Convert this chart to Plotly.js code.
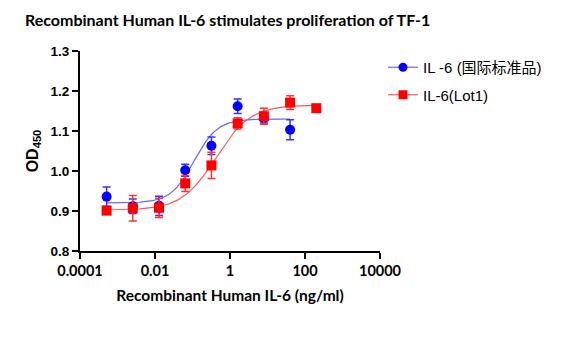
<!DOCTYPE html>
<html><head><meta charset="utf-8">
<script src="https://cdn.plot.ly/plotly-3.0.1.min.js"></script>
<style>html,body{margin:0;padding:0;background:#fff}#chart{width:575px;height:347px}</style>
</head><body><div id="chart"></div>
<script>
// concentrations (ng/ml)
const concStd = [0.000512, 0.00256, 0.0128, 0.064, 0.32, 1.6, 8, 40];
const odStd = [0.936, 0.912, 0.913, 1.002, 1.063, 1.162, 1.132, 1.103];
const errStd = [0.024, 0.018, 0.024, 0.015, 0.022, 0.018, 0.012, 0.025];

const concLot = [0.000512, 0.00256, 0.0128, 0.064, 0.32, 1.6, 8, 40, 200];
const odLot = [0.901, 0.907, 0.908, 0.969, 1.014, 1.119, 1.137, 1.171, 1.157];
const errLot = [0.006, 0.032, 0.024, 0.02, 0.033, 0.014, 0.02, 0.017, 0];

// 4PL fit parameters [bottom, top, EC50, hill]
const fitStd = [0.920, 1.130, 0.11, 1.4];
const fitLot = [0.902, 1.165, 0.42, 0.95];

const seriesNames = ['IL -6 (国际标准品)', 'IL-6(Lot1)'];
const xTickVals = [0.0001, 0.01, 1, 100, 10000];
const xTickText = ['0.0001', '0.01', '1', '100', '10000'];
const yTickVals = [0.8, 0.9, 1.0, 1.1, 1.2, 1.3];
const yTickText = ['0.8', '0.9', '1.0', '1.1', '1.2', '1.3'];

function curve(p, xmin, xmax) {
  const xs = [], ys = [];
  const a = Math.log10(xmin), b = Math.log10(xmax);
  for (let i = 0; i <= 200; i++) {
    const lx = a + (b - a) * i / 200, x = Math.pow(10, lx);
    xs.push(x);
    ys.push(p[0] + (p[1] - p[0]) / (1 + Math.pow(p[2] / x, p[3])));
  }
  return {xs, ys};
}
const cS = curve(fitStd, concStd[0], concStd[concStd.length - 1]);
const cL = curve(fitLot, concLot[0], concLot[concLot.length - 1]);

const blue = '#0000ff', red = '#ff0000';
const traces = [
  {x: cS.xs, y: cS.ys, mode: 'lines', line: {color: '#6666ff', width: 1.2}, showlegend: false, hoverinfo: 'skip'},
  {x: cL.xs, y: cL.ys, mode: 'lines', line: {color: '#ff5555', width: 1.2}, showlegend: false, hoverinfo: 'skip'},
  {x: concStd, y: odStd, mode: 'markers', marker: {color: blue, size: 10, symbol: 'circle'},
   error_y: {type: 'data', array: errStd, color: '#3333ff', thickness: 1.5, width: 4}, showlegend: false},
  {x: concLot, y: odLot, mode: 'markers', marker: {color: red, size: 10, symbol: 'square'},
   error_y: {type: 'data', array: errLot, color: '#ff3333', thickness: 1.5, width: 4}, showlegend: false},
  {x: [null], y: [null], mode: 'lines+markers', name: seriesNames[0], legendgroup: 'a', line: {color: '#6666ff', width: 1.2},
   marker: {color: blue, size: 9, symbol: 'circle'}},
  {x: [null], y: [null], mode: 'lines+markers', name: seriesNames[1], legendgroup: 'b', line: {color: '#ff5555', width: 1.2},
   marker: {color: red, size: 9, symbol: 'square'}}
];

const layout = {
  width: 575, height: 347,
  margin: {l: 80, r: 195, t: 51, b: 96},
  paper_bgcolor: '#fff', plot_bgcolor: '#fff',
  title: {text: '<b>Recombinant Human IL-6 stimulates proliferation of TF-1</b>',
    font: {family: 'Lato, "Open Sans", sans-serif', size: 16, color: '#000'},
    x: 25 / 575, xanchor: 'left', xref: 'container', y: 1 - 20 / 347, yanchor: 'middle', yref: 'container'},
  xaxis: {type: 'log', range: [-4, 4], tickvals: xTickVals, ticktext: xTickText,
    showline: true, linecolor: '#000', linewidth: 2, ticks: 'outside', ticklen: 6, tickwidth: 2, tickcolor: '#000',
    showgrid: false, zeroline: false,
    tickfont: {family: 'Lato, sans-serif', size: 14.5, color: '#000', weight: 'bold'},
    title: {text: '<b>Recombinant Human IL-6 (ng/ml)</b>', font: {family: 'Lato, sans-serif', size: 15.5, color: '#000'}, standoff: 12}},
  yaxis: {range: [0.8, 1.3], tickvals: yTickVals, ticktext: yTickText,
    showline: true, linecolor: '#000', linewidth: 2, ticks: 'outside', ticklen: 6, tickwidth: 2, tickcolor: '#000',
    showgrid: false, zeroline: false,
    tickfont: {family: '"Liberation Sans", Arial, sans-serif', size: 13.5, color: '#000', weight: 'bold'},
    title: {text: '<b>OD<sub>450</sub></b>', font: {family: '"Liberation Sans", Arial, sans-serif', size: 16, color: '#000'}, standoff: 8}},
  legend: {x: 1.01, xanchor: 'left', y: 1.0, yanchor: 'top', bgcolor: 'rgba(0,0,0,0)',
    font: {family: '"Liberation Sans", "Noto Sans CJK SC", sans-serif', size: 15, color: '#000'},
    tracegroupgap: 5, itemwidth: 30},
  showlegend: true
};

Plotly.newPlot('chart', traces, layout, {displayModeBar: false, staticPlot: true});
</script></body></html>
